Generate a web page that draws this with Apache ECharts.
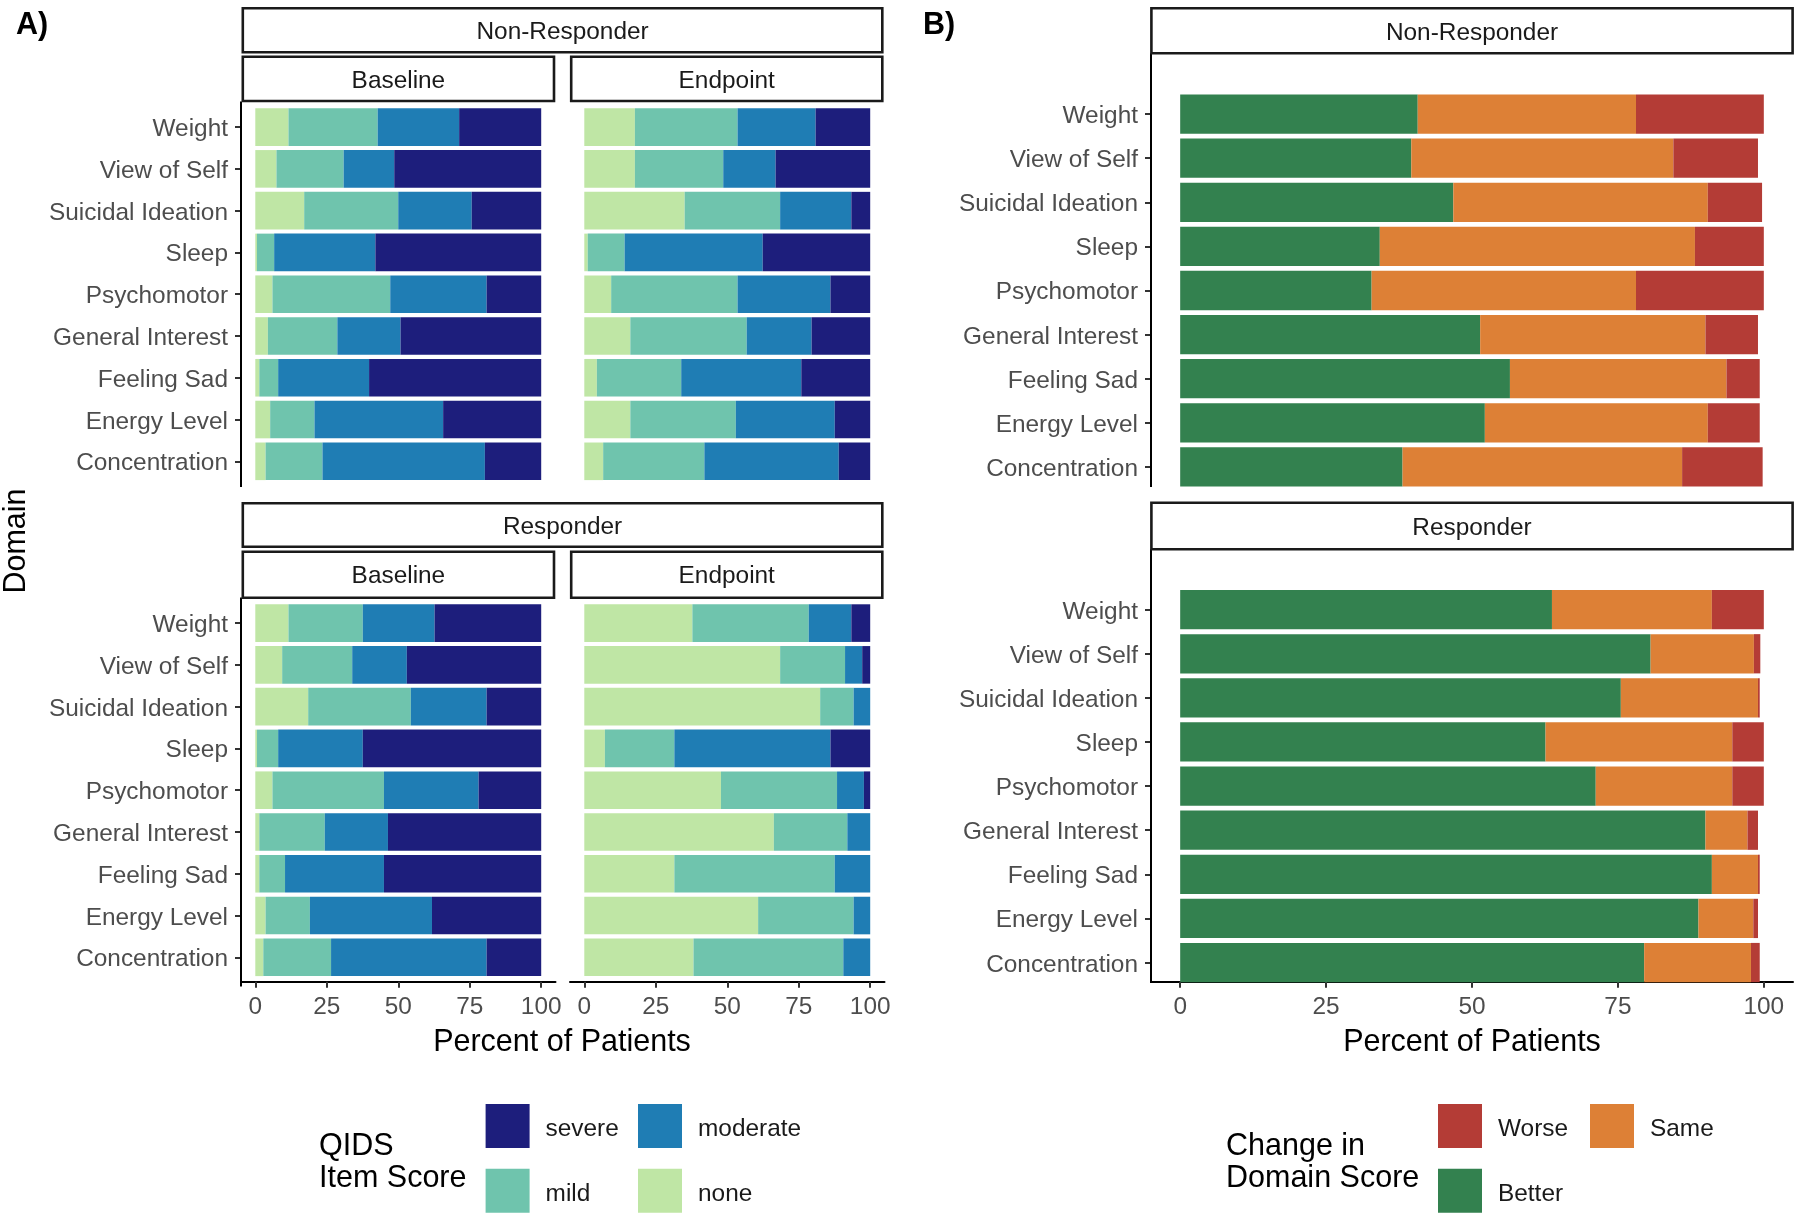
<!DOCTYPE html>
<html><head><meta charset="utf-8">
<script src="https://cdn.jsdelivr.net/npm/echarts@6/dist/echarts.min.js"></script>
<style>html,body{margin:0;padding:0;background:#fff}#c{width:1800px;height:1217px}</style>
</head><body><div id="c"></div>
<script>
// ---------------- DATA ----------------
const domains = ['Weight','View of Self','Suicidal Ideation','Sleep','Psychomotor','General Interest','Feeling Sad','Energy Level','Concentration'];
const qidsLevels = ['none','mild','moderate','severe'];
const changeLevels = ['Better','Same','Worse'];
const xTicks = [0, 25, 50, 75, 100];

// Panel A: Non-Responder, Baseline
const nrBaseNone     = [11.6, 7.4, 17.1, 0.6, 6.0, 4.4, 1.4, 5.2, 3.6];
const nrBaseMild     = [31.2, 23.5, 32.9, 6.0, 41.2, 24.3, 6.6, 15.5, 19.9];
const nrBaseModerate = [28.5, 17.7, 25.7, 35.4, 33.7, 22.1, 31.8, 45.0, 56.8];
const nrBaseSevere   = [28.7, 51.4, 24.3, 58.0, 19.1, 49.2, 60.2, 34.3, 19.7];
// Panel A: Non-Responder, Endpoint
const nrEndNone      = [17.7, 17.7, 35.1, 1.2, 9.4, 16.1, 4.4, 16.1, 6.6];
const nrEndMild      = [35.9, 30.9, 33.4, 12.9, 44.2, 40.7, 29.5, 36.9, 35.4];
const nrEndModerate  = [27.3, 18.3, 24.9, 48.3, 32.5, 22.7, 42.0, 34.6, 47.0];
const nrEndSevere    = [19.1, 33.1, 6.6, 37.6, 13.9, 20.5, 24.1, 12.4, 11.0];
// Panel A: Responder, Baseline
const rBaseNone      = [11.6, 9.4, 18.5, 0.6, 6.0, 1.4, 1.4, 3.6, 2.8];
const rBaseMild      = [26.0, 24.5, 35.9, 7.4, 39.0, 22.9, 9.0, 15.5, 23.7];
const rBaseModerate  = [25.1, 19.1, 26.5, 29.6, 33.1, 22.1, 34.6, 42.7, 54.4];
const rBaseSevere    = [37.3, 47.0, 19.1, 62.4, 21.9, 53.6, 55.0, 38.2, 19.1];
// Panel A: Responder, Endpoint
const rEndNone       = [37.8, 68.5, 82.5, 7.2, 47.8, 66.3, 31.5, 60.8, 38.2];
const rEndMild       = [40.7, 22.7, 11.7, 24.3, 40.6, 25.7, 56.1, 33.4, 52.4];
const rEndModerate   = [14.9, 6.0, 5.8, 54.6, 9.4, 8.0, 12.4, 5.8, 9.4];
const rEndSevere     = [6.6, 2.8, 0, 13.9, 2.2, 0, 0, 0, 0];
// Panel B: Non-Responder
const nrBetter = [40.7, 39.6, 46.8, 34.2, 32.8, 51.4, 56.5, 52.2, 38.1];
const nrSame   = [37.4, 44.9, 43.6, 54.0, 45.3, 38.6, 37.1, 38.2, 47.9];
const nrWorse  = [21.9, 14.5, 9.3, 11.8, 21.9, 9.0, 5.7, 8.9, 13.8];
// Panel B: Responder
const rBetter  = [63.7, 80.6, 75.5, 62.6, 71.2, 90.0, 91.1, 88.8, 79.5];
const rSame    = [27.4, 17.7, 23.5, 32.0, 23.4, 7.2, 7.9, 9.4, 18.3];
const rWorse   = [8.9, 1.1, 0.3, 5.4, 5.4, 1.8, 0.3, 0.8, 1.5];

// ---------------- STYLE ----------------
const FONT = '"Liberation Sans", Arial, Helvetica, sans-serif';
const qidsColors = {none:'#BFE6A5', mild:'#6FC4AD', moderate:'#1F7DB4', severe:'#1D1E7C'};
const changeColors = {Better:'#33814F', Same:'#DD8036', Worse:'#B43C36'};
const AX = 24.4, TT = 30.5;

const grids = [
  {left:241, top:106.2, width:314.5, height:376, yLab:true,  xAx:false, off:0},
  {left:570, top:106.2, width:314.5, height:376, yLab:false, xAx:false, off:0},
  {left:241, top:602.2, width:314.5, height:376, yLab:true,  xAx:true,  off:3.5},
  {left:570, top:602.2, width:314.5, height:376, yLab:false, xAx:true,  off:3.5},
  {left:1151, top:92,   width:642,   height:397, yLab:true,  xAx:false, off:0},
  {left:1151, top:587.6,width:642,   height:397, yLab:true,  xAx:true,  off:-2.9}
];

const panelsA = [
  [nrBaseNone, nrBaseMild, nrBaseModerate, nrBaseSevere],
  [nrEndNone, nrEndMild, nrEndModerate, nrEndSevere],
  [rBaseNone, rBaseMild, rBaseModerate, rBaseSevere],
  [rEndNone, rEndMild, rEndModerate, rEndSevere]
];
const panelsB = [
  [nrBetter, nrSame, nrWorse],
  [rBetter, rSame, rWorse]
];

const series = [];
panelsA.forEach((arrs, p) => {
  arrs.forEach((arr, k) => {
    series.push({type:'bar', name:qidsLevels[k], xAxisIndex:p, yAxisIndex:p, stack:'s'+p,
      data:arr, barWidth:'90%', itemStyle:{color:qidsColors[qidsLevels[k]]}, emphasis:{disabled:true}, silent:true});
  });
});
panelsB.forEach((arrs, q) => {
  const p = 4 + q;
  arrs.forEach((arr, k) => {
    series.push({type:'bar', name:changeLevels[k], xAxisIndex:p, yAxisIndex:p, stack:'s'+p,
      data:arr, barWidth:'89%', itemStyle:{color:changeColors[changeLevels[k]]}, emphasis:{disabled:true}, silent:true});
  });
});

const xAxes = grids.map((g, i) => ({
  gridIndex:i, type:'value', min:-5, max:105, show:g.xAx, offset:g.off,
  splitLine:{show:false},
  axisLine:{show:true, onZero:false, lineStyle:{color:'#000', width:2}},
  axisTick:{show:true, customValues:xTicks, length:6, lineStyle:{color:'#333', width:2}},
  axisLabel:{show:true, customValues:xTicks, fontSize:AX, color:'#4D4D4D', fontFamily:FONT, margin:13.5}
}));
const yAxes = grids.map((g, i) => ({
  gridIndex:i, type:'category', data:domains, inverse:true, show:g.yLab,
  axisLine:{show:false, onZero:false},
  axisTick:{show:true, alignWithLabel:true, length:6, lineStyle:{color:'#333', width:2}},
  axisLabel:{margin:13, formatter:'{a|{value}}',
    rich:{a:{fontSize:AX, color:'#4D4D4D', fontFamily:FONT, padding:[4.5,0,0,0]}}}
}));

const g = [];
function strip(x1, y1, x2, y2, label) {
  g.push({type:'rect', shape:{x:x1, y:y1, width:x2-x1, height:y2-y1},
    style:{fill:'#fff', stroke:'#1A1A1A', lineWidth:2.6}, z:10});
  g.push({type:'text', x:(x1+x2)/2, y:(y1+y2)/2 + 2, z:11,
    style:{text:label, fill:'#1A1A1A', fontSize:AX, fontFamily:FONT, textAlign:'center', textVerticalAlign:'middle', verticalAlign:'middle'}});
}
function vline(x, y1, y2) {
  g.push({type:'line', shape:{x1:x, y1:y1, x2:x, y2:y2}, style:{stroke:'#000', lineWidth:2}, z:9});
}
function txt(x, y, s, opt) {
  g.push(Object.assign({type:'text', x:x, y:y, z:11,
    style:Object.assign({text:s, fill:'#000', fontSize:TT, fontFamily:FONT, textAlign:'left', textVerticalAlign:'middle', verticalAlign:'middle'}, opt && opt.style)},
    opt && opt.el));
}
strip(242.8, 8.3, 882.3, 52.3, 'Non-Responder');
strip(242.8, 56.7, 554, 101, 'Baseline');
strip(571.2, 56.7, 882.3, 101, 'Endpoint');
strip(242.8, 503.3, 882.3, 546.7, 'Responder');
strip(242.8, 551.7, 554, 597.7, 'Baseline');
strip(571.2, 551.7, 882.3, 597.7, 'Endpoint');
strip(1151.4, 8.3, 1792.6, 53.3, 'Non-Responder');
strip(1151.4, 502.7, 1792.6, 549.3, 'Responder');
vline(241, 101.5, 487);
vline(241, 597.5, 986.5);
vline(1151, 53.3, 487);
vline(1151, 549.3, 983);
txt(16, 26, 'A)', {style:{fontWeight:'bold'}});
txt(923, 26, 'B)', {style:{fontWeight:'bold'}});
txt(0, 0, 'Domain', {el:{x:17, y:541, rotation:Math.PI/2}, style:{textAlign:'center'}});
txt(562, 1042.5, 'Percent of Patients', {style:{textAlign:'center'}});
txt(1472, 1042.5, 'Percent of Patients', {style:{textAlign:'center'}});
txt(319, 1147, 'QIDS');
txt(319, 1179, 'Item Score');
txt(1226, 1147, 'Change in');
txt(1226, 1179, 'Domain Score');

const legendPos = [
  ['severe', 485.6, 1104], ['moderate', 638, 1104], ['mild', 485.6, 1168.7], ['none', 638, 1168.7],
  ['Worse', 1438, 1104], ['Same', 1590, 1104], ['Better', 1438, 1168.7]
];
const legends = legendPos.map(([name, l, t]) => ({
  data:[name], left:l, top:t, padding:0, itemWidth:44, itemHeight:44, icon:'rect', selectedMode:false,
  formatter:'{a|{name}}',
  textStyle:{rich:{a:{fontSize:AX, color:'#1A1A1A', fontFamily:FONT, padding:[7,0,0,11]}}}
}));

const chart = echarts.init(document.getElementById('c'), null, {renderer:'canvas'});
chart.setOption({
  animation:false,
  backgroundColor:'#fff',
  grid: grids.map(q => ({left:q.left, top:q.top, width:q.width, height:q.height, containLabel:false})),
  xAxis:xAxes, yAxis:yAxes, series:series, legend:legends, graphic:g
});
</script></body></html>
